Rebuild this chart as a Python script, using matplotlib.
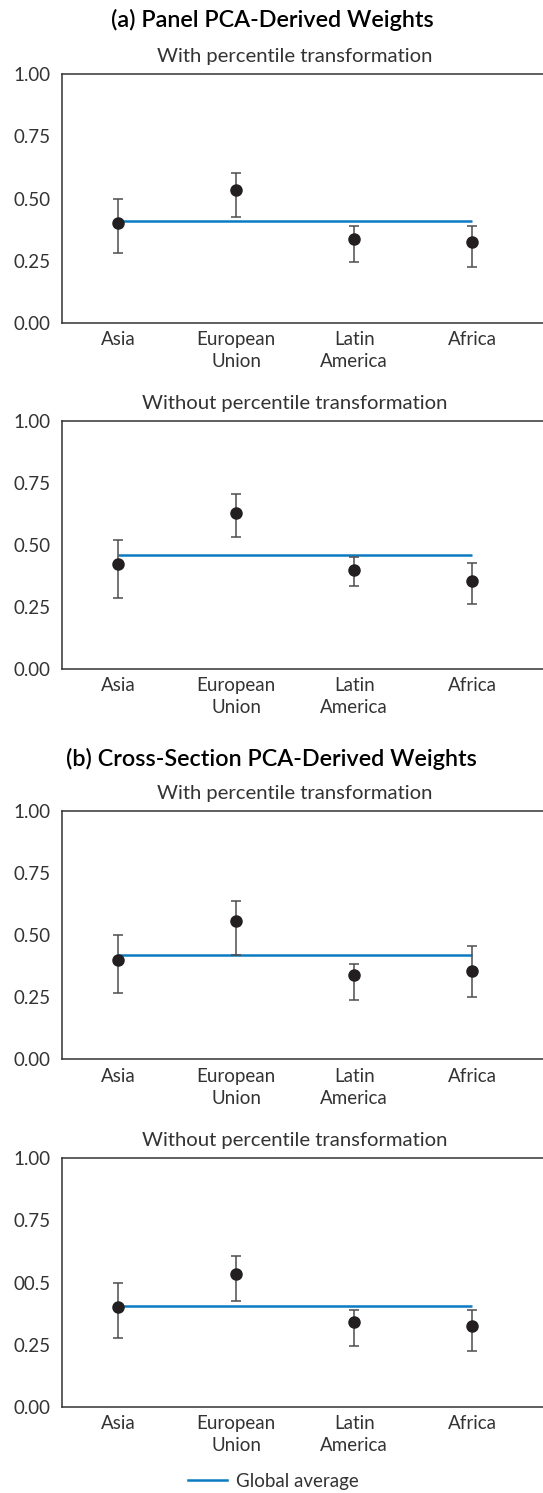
import numpy as np
import matplotlib
matplotlib.use("Agg")
import matplotlib.pyplot as plt

plt.rcParams['font.family'] = ['Lato', 'DejaVu Sans']

# data
regions = ["Asia", "European\nUnion", "Latin\nAmerica", "Africa"]

a_with_pt = [0.403, 0.534, 0.337, 0.325]
a_with_lo = [0.280, 0.426, 0.244, 0.225]
a_with_hi = [0.499, 0.604, 0.388, 0.388]
a_with_avg = 0.408

a_without_pt = [0.421, 0.629, 0.398, 0.355]
a_without_lo = [0.284, 0.531, 0.332, 0.262]
a_without_hi = [0.517, 0.703, 0.450, 0.425]
a_without_avg = 0.458

b_with_pt = [0.398, 0.555, 0.338, 0.355]
b_with_lo = [0.267, 0.420, 0.240, 0.252]
b_with_hi = [0.500, 0.637, 0.385, 0.457]
b_with_avg = 0.420

b_without_pt = [0.403, 0.536, 0.339, 0.326]
b_without_lo = [0.278, 0.426, 0.243, 0.224]
b_without_hi = [0.500, 0.605, 0.388, 0.388]
b_without_avg = 0.407

yticks = [0, 0.25, 0.5, 0.75, 1.0]
ytick_labels = ["0.00", "0.25", "0.50", "0.75", "1.00"]
ytick_labels_last = ["0.00", "0.25", "00.5", "0.75", "1.00"]

BLUE = "#0B7BC1"
DARK = "#231F20"
GREY = "#4D4D4F"
TXT = "#333333"

fig = plt.figure(figsize=(5.43, 14.93), dpi=100)
W, H = 543.0, 1493.0

# (top px, bottom px) of each axes
boxes = [(74, 323), (420.7, 668.7), (810.7, 1059.3), (1158.3, 1406.7)]
panels = [
    (a_with_pt, a_with_lo, a_with_hi, a_with_avg, "With percentile transformation", ytick_labels),
    (a_without_pt, a_without_lo, a_without_hi, a_without_avg, "Without percentile transformation", ytick_labels),
    (b_with_pt, b_with_lo, b_with_hi, b_with_avg, "With percentile transformation", ytick_labels),
    (b_without_pt, b_without_lo, b_without_hi, b_without_avg, "Without percentile transformation", ytick_labels_last),
]

x = np.arange(len(regions))
left = 62 / W
for (top, bot), (pt, lo, hi, avg, sub, tl) in zip(boxes, panels):
    ax = fig.add_axes([left, 1 - bot / H, 1 - left, (bot - top) / H])
    pt = np.array(pt)
    yerr = [pt - np.array(lo), np.array(hi) - pt]
    ax.plot(x, [avg] * len(x), color=BLUE, lw=1.8, zorder=2, solid_capstyle='butt')
    ax.errorbar(x, pt, yerr=yerr, fmt='o', color=DARK, ecolor=GREY, elinewidth=1.1,
                capsize=3.5, capthick=1.1, markersize=8, zorder=3)
    ax.set_xlim(-0.475, 3.6)
    ax.set_ylim(0, 1)
    ax.set_yticks(yticks)
    ax.set_yticklabels(tl)
    ax.set_xticks(x)
    ax.set_xticklabels(regions, linespacing=1.35)
    ax.tick_params(length=0, labelsize=13.5, colors=TXT, pad=6)
    ax.tick_params(axis='y', pad=8)
    ax.spines['right'].set_visible(False)
    for s in ['left', 'top', 'bottom']:
        ax.spines[s].set_color("#333333")
        ax.spines[s].set_linewidth(1.1)
    fig.text(295 / W, 1 - (top - 12) / H, sub, ha='center', va='baseline',
             fontsize=14.6, color=TXT)

fig.text(272 / W, 1 - 27 / H, "(a) Panel PCA-Derived Weights", ha='center', va='baseline',
         fontsize=16.8, fontweight='semibold', color='black')
fig.text(271 / W, 1 - 766 / H, "(b) Cross-Section PCA-Derived Weights", ha='center', va='baseline',
         fontsize=16.8, fontweight='semibold', color='black')

h, = plt.plot([], [], color=BLUE, lw=1.8)
fig.legend([h], ["Global average"], loc='center', bbox_to_anchor=(0.503, 1 - 1481 / H),
           frameon=False, fontsize=13.5, handlelength=2.1, handletextpad=0.45,
           labelcolor=TXT)

fig.savefig("out.png", dpi=100)
